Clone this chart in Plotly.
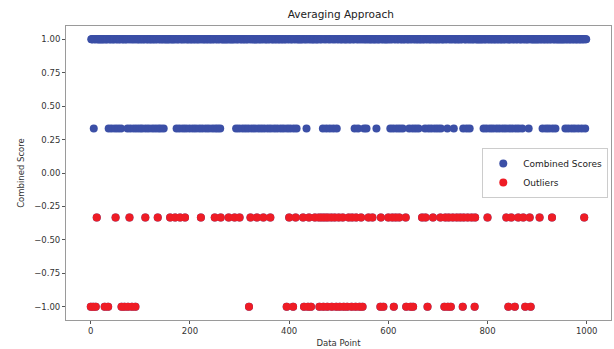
import plotly.graph_objects as go

# ---- data ----
n_points = 1000
level_high = 1.0
level_mid = 0.3333
level_low = -0.3333
level_min = -1.0

mid_idx = [6,
           36, 42, 49, 55, 61, 68, 74, 80, 87, 93, 99, 104, 111, 117, 124, 130, 136, 141, 147,
           173, 179, 186, 192, 199, 206, 212, 219, 225, 232, 238, 245, 251, 256, 261,
           293, 299, 306, 312, 318, 325, 331, 338, 344, 350, 357, 363, 370, 376, 383, 389, 396, 402, 409, 415,
           435,
           461, 468, 475, 482, 489, 496, 502,
           526, 532, 539, 545, 551, 556,
           576,
           604, 610, 617, 623, 629, 636, 642, 649, 655, 661, 668, 674, 681, 687, 694, 700, 706, 713, 719,
           726, 732, 738, 745, 751, 758, 764, 768,
           792, 798, 805, 811, 818, 824, 831, 837, 844, 850, 857, 863, 870, 876, 883,
           905, 911, 918, 924, 931, 937,
           957, 963, 970, 976, 983, 990, 997]

low_idx = [12, 50, 78, 110, 135, 160, 170, 180, 190, 222, 250, 262, 278, 290, 300, 322, 335, 348,
           362, 400, 413, 428, 440, 452, 460, 466, 472, 478, 485, 492, 500, 508, 520, 527, 535, 545,
           560, 568, 585, 600, 608, 615, 622, 635, 645, 668, 675, 690, 705, 715, 722, 730, 738, 745,
           752, 760, 768, 775, 800, 838, 848, 855, 862, 872, 885, 905, 930, 995]

min_idx = [0, 5, 10, 28, 35, 62, 68, 75, 83, 90, 319, 395, 408, 430, 438, 444, 461, 469, 477, 486,
           495, 502, 510, 517, 526, 534, 542, 548, 584, 590, 611, 636, 645, 650, 679, 713, 720, 726,
           750, 774, 842, 855, 876, 887]

x_ticks = [0, 200, 400, 600, 800, 1000]
y_ticks = [1.0, 0.75, 0.5, 0.25, 0.0, -0.25, -0.5, -0.75, -1.0]

# ---- build score array ----
scores = [level_high] * n_points
for i in mid_idx:
    scores[i] = level_mid
for i in low_idx:
    scores[i] = level_low
for i in min_idx:
    scores[i] = level_min
idx = list(range(n_points))
out_x = [i for i in idx if scores[i] < 0]
out_y = [scores[i] for i in out_x]

BLUE = "#3b4fa6"
RED = "#ee1c25"
FONT = "DejaVu Sans"

fig = go.Figure()
fig.add_trace(go.Scatter(x=idx, y=scores, mode="markers", name="Combined Scores",
                         marker=dict(color=BLUE, size=8, line=dict(width=0))))
fig.add_trace(go.Scatter(x=out_x, y=out_y, mode="markers", name="Outliers",
                         marker=dict(color=RED, size=8, line=dict(width=0))))

axis_common = dict(showgrid=False, zeroline=False, showline=True, mirror=True,
                   linecolor="#9a9a9a", linewidth=1, ticks="outside", ticklen=3,
                   tickcolor="#555555", tickfont=dict(size=8.5, color="#333333", family=FONT))

fig.update_layout(
    width=614, height=349,
    margin=dict(l=66, r=3, t=26, b=29),
    paper_bgcolor="white", plot_bgcolor="white",
    font=dict(family=FONT, color="#333333"),
    title=dict(text="Averaging Approach", x=0.555, xanchor="center", y=0.96, yanchor="middle",
               font=dict(size=10.5, color="#222222", family=FONT)),
    xaxis=dict(range=[-50, 1049], tickvals=x_ticks,
               title=dict(text="Data Point", font=dict(size=8.5, family=FONT), standoff=4),
               **axis_common),
    yaxis=dict(range=[-1.1, 1.1], tickvals=y_ticks, tickformat=".2f",
               title=dict(text="Combined Score", font=dict(size=8.5, family=FONT), standoff=8),
               **axis_common),
    legend=dict(x=0.995, xanchor="right", y=0.5, yanchor="middle",
                bordercolor="#cccccc", borderwidth=1, bgcolor="white",
                font=dict(size=9, family=FONT, color="#222222"),
                itemsizing="trace", tracegroupgap=0, itemwidth=30),
    showlegend=True,
)

fig.write_html("out.html")
